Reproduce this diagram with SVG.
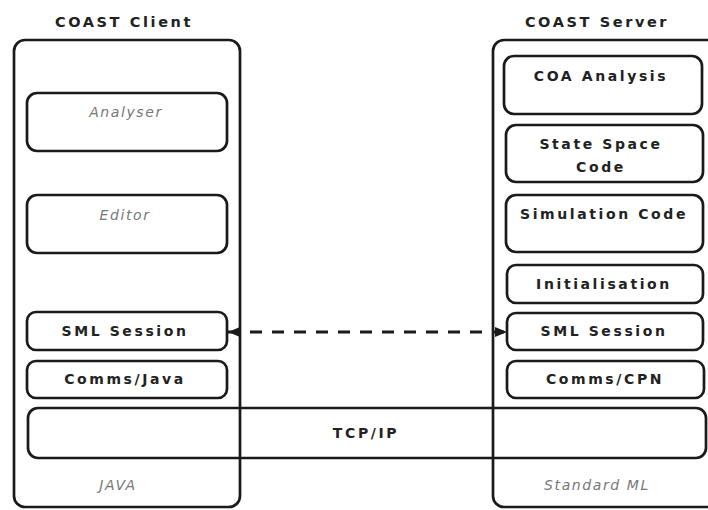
<svg xmlns="http://www.w3.org/2000/svg" width="708" height="510" viewBox="0 0 708 510">
  <style>
    .box { fill: none; stroke: #1a1a1a; stroke-width: 2.7; }
    .title { font-family: "DejaVu Sans", "Liberation Sans", sans-serif; font-weight: bold; font-size: 14.5px; letter-spacing: 2.6px; fill: #222; text-anchor: middle; }
    .lbl { font-family: "DejaVu Sans", "Liberation Sans", sans-serif; font-weight: bold; font-size: 14px; letter-spacing: 2.6px; fill: #222; text-anchor: middle; }
    .note { font-family: "DejaVu Sans", "Liberation Sans", sans-serif; font-style: italic; font-size: 14px; letter-spacing: 1.6px; fill: #777; text-anchor: middle; }
    .link { fill: none; stroke: #1a1a1a; stroke-width: 3; stroke-dasharray: 12 10; }
  </style>
  <defs>
    <marker id="head" viewBox="0 0 12 10" refX="12" refY="5" markerWidth="12" markerHeight="10" markerUnits="userSpaceOnUse" orient="auto-start-reverse">
      <path d="M0,0 L12,5 L0,10 Z" fill="#1a1a1a"/>
    </marker>
  </defs>
  <rect width="708" height="510" fill="#ffffff"/>

  <!-- Client side -->
  <g id="client">
    <text class="title" x="124" y="27">COAST Client</text>
    <rect class="box" x="14" y="40" width="226" height="467" rx="11"/>
    <text class="note" x="118" y="490">JAVA</text>
  </g>
  <g id="analyser">
    <rect class="box" x="27" y="93" width="200" height="58" rx="10"/>
    <text class="note" x="126" y="117">Analyser</text>
  </g>
  <g id="editor">
    <rect class="box" x="27" y="195" width="200" height="58" rx="10"/>
    <text class="note" x="125" y="220">Editor</text>
  </g>
  <g id="client-sml">
    <rect class="box" x="27" y="312" width="200" height="38" rx="9"/>
    <text class="lbl" x="125" y="336">SML Session</text>
  </g>
  <g id="comms-java">
    <rect class="box" x="27" y="361" width="200" height="37" rx="9"/>
    <text class="lbl" x="125" y="384">Comms/Java</text>
  </g>

  <!-- Server side -->
  <g id="server">
    <text class="title" x="597" y="27">COAST Server</text>
    <rect class="box" x="493" y="40" width="230" height="467" rx="11"/>
    <text class="note" x="597" y="490">Standard ML</text>
  </g>
  <g id="coa-analysis">
    <rect class="box" x="504" y="56" width="198" height="58" rx="10"/>
    <text class="lbl" x="601" y="81">COA Analysis</text>
  </g>
  <g id="state-space">
    <rect class="box" x="506" y="125" width="197" height="57" rx="10"/>
    <text class="lbl" x="601" y="149">State Space</text>
    <text class="lbl" x="601" y="172">Code</text>
  </g>
  <g id="simulation">
    <rect class="box" x="506" y="195" width="197" height="57" rx="10"/>
    <text class="lbl" x="604" y="219">Simulation Code</text>
  </g>
  <g id="initialisation">
    <rect class="box" x="507" y="265" width="196" height="38" rx="9"/>
    <text class="lbl" x="604" y="289">Initialisation</text>
  </g>
  <g id="server-sml">
    <rect class="box" x="507" y="313" width="196" height="37" rx="9"/>
    <text class="lbl" x="604" y="336">SML Session</text>
  </g>
  <g id="comms-cpn">
    <rect class="box" x="507" y="361" width="197" height="37" rx="9"/>
    <text class="lbl" x="605" y="384">Comms/CPN</text>
  </g>

  <!-- Shared transport layer -->
  <g id="tcpip">
    <rect class="box" x="28" y="408" width="678" height="50" rx="10"/>
    <text class="lbl" x="366" y="438">TCP/IP</text>
  </g>

  <!-- Connectors -->
  <g id="connectors">
    <line class="link" x1="228" y1="332" x2="507" y2="332" marker-start="url(#head)" marker-end="url(#head)"/>
  </g>
</svg>
